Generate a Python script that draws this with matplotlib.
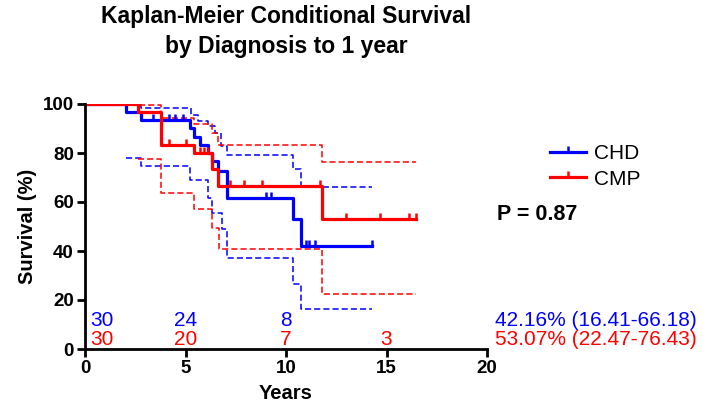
"""
Kaplan-Meier conditional survival by diagnosis (CHD vs CMP), to 1 year.
Recreated from a Prism-style figure; values read off the picture.
"""

import matplotlib
matplotlib.use("Agg")
import matplotlib.pyplot as plt
from matplotlib.lines import Line2D

plt.rcParams["font.family"] = ["Liberation Sans", "DejaVu Sans"]

# ---------------------------------------------------------------------------
# Data (years, survival %)
# ---------------------------------------------------------------------------
chd_t = [0, 2.05, 2.8, 5.2, 5.4, 5.7, 6.1, 6.3, 6.6, 7.05, 10.35, 10.75]
chd_s = [100, 96.67, 93.33, 90.0, 86.67, 83.33, 80.0, 76.67, 72.7, 61.7, 52.9, 42.16]
chd_end = 14.3
chd_cens_t = [1.2, 3.4, 4.2, 4.5, 4.9, 9.0, 9.25, 11.0, 11.15, 11.45, 14.3]

chd_hi_t = [0, 2.05, 2.8, 5.25, 5.6, 6.1, 6.45, 6.75, 7.05, 10.35, 10.75]
chd_hi_s = [100, 99.5, 98.2, 95.5, 93.0, 91.0, 88.0, 83.0, 79.2, 73.4, 66.18]
chd_lo_t = [2.05, 2.8, 5.2, 6.1, 6.3, 6.8, 7.05, 10.35, 10.75]
chd_lo_s = [78.0, 74.7, 68.8, 61.7, 55.5, 48.8, 37.1, 26.7, 16.41]

cmp_t = [0, 2.65, 3.8, 5.4, 6.3, 6.6, 11.8]
cmp_s = [100, 96.67, 83.33, 80.0, 73.6, 66.7, 53.07]
cmp_end = 16.45
cmp_cens_t = [1.4, 2.3, 4.2, 5.0, 5.7, 5.9, 6.1, 7.2, 7.9, 8.8, 11.7,
              13.0, 14.7, 16.1, 16.45]

cmp_hi_t = [0, 2.65, 3.8, 5.4, 6.3, 6.6, 11.8]
cmp_hi_s = [100, 99.5, 94.3, 91.8, 88.0, 83.1, 76.43]
cmp_lo_t = [2.65, 3.8, 5.4, 6.3, 6.65, 11.8]
cmp_lo_s = [77.5, 63.6, 57.1, 49.4, 41.0, 22.47]

# numbers at risk
risk_t = [0, 5, 10, 15]
chd_risk = ["30", "24", "8", ""]
cmp_risk = ["30", "20", "7", "3"]

chd_summary = "42.16% (16.41-66.18)"
cmp_summary = "53.07% (22.47-76.43)"
p_text = "P = 0.87"

BLUE = "#0000ff"
RED = "#ff0000"
TICK_UP = [(0, 0), (0, 1)]  # censor mark pointing up


def step_xy(t, s, end):
    return list(t) + [end], list(s) + [s[-1]]


def value_at(t, s, x):
    v = s[0]
    for ti, si in zip(t, s):
        if ti <= x:
            v = si
    return v


# ---------------------------------------------------------------------------
# Plot
# ---------------------------------------------------------------------------
fig = plt.figure(figsize=(7.09, 4.04), dpi=100)
ax = fig.add_axes([85 / 709, 1 - 349 / 404, (487 - 85) / 709, (349 - 104) / 404])

for t, s, end, col in [(chd_hi_t, chd_hi_s, chd_end, BLUE), (chd_lo_t, chd_lo_s, chd_end, BLUE),
                       (cmp_hi_t, cmp_hi_s, cmp_end, RED), (cmp_lo_t, cmp_lo_s, cmp_end, RED)]:
    x, y = step_xy(t, s, end)
    ax.step(x, y, where="post", color=col, lw=1.1, ls=(0, (4, 2)))

for t, s, end, cens, col in [(chd_t, chd_s, chd_end, chd_cens_t, BLUE),
                             (cmp_t, cmp_s, cmp_end, cmp_cens_t, RED)]:
    x, y = step_xy(t, s, end)
    ax.step(x, y, where="post", color=col, lw=2.3)
    cy = [value_at(t, s, c) for c in cens]
    ax.plot(cens, cy, ls="none", marker=TICK_UP, ms=9, mew=1.8, color=col)

ax.set_xlim(0, 20)
ax.set_ylim(0, 100)
ax.set_xticks([0, 5, 10, 15, 20])
ax.set_yticks([0, 20, 40, 60, 80, 100])
for sp in ["top", "right"]:
    ax.spines[sp].set_visible(False)
for sp in ["left", "bottom"]:
    ax.spines[sp].set_linewidth(2)
ax.tick_params(direction="out", length=6, width=2, labelsize=13.5, pad=2)
for lab in ax.get_xticklabels() + ax.get_yticklabels():
    lab.set_fontweight("bold")
ax.set_xlabel("Years", fontsize=14.5, fontweight="bold", labelpad=5)
ax.set_ylabel("Survival (%)", fontsize=14.5, fontweight="bold", labelpad=4)

# numbers at risk
for xt, a, b in zip(risk_t, chd_risk, cmp_risk):
    xx = 0.85 if xt == 0 else xt
    ax.text(xx, 11.5, a, color=BLUE, fontsize=15, ha="center", va="center")
    ax.text(xx, 3.8, b, color=RED, fontsize=15, ha="center", va="center")

ax.text(20.4, 11.5, chd_summary, color=BLUE, fontsize=15, ha="left", va="center", clip_on=False)
ax.text(20.4, 3.8, cmp_summary, color=RED, fontsize=15, ha="left", va="center", clip_on=False)
ax.text(20.5, 55, p_text, fontsize=15.5, fontweight="bold", ha="left", va="center", clip_on=False)

handles = [Line2D([], [], color=BLUE, lw=2.3, marker=TICK_UP, ms=9, mew=1.8),
           Line2D([], [], color=RED, lw=2.3, marker=TICK_UP, ms=9, mew=1.8)]
ax.legend(handles, ["CHD", "CMP"], loc="center left", bbox_to_anchor=(1.157, 0.745),
          frameon=False, fontsize=15, handlelength=1.7, handletextpad=0.4, numpoints=1,
          labelspacing=0.3, borderpad=0, borderaxespad=0)

fig.text(286 / 709, 1 - 16 / 404, "Kaplan-Meier Conditional Survival", ha="center", va="center",
         fontsize=16.5, fontweight="bold")
fig.text(286 / 709, 1 - 47 / 404, "by Diagnosis to 1 year", ha="center", va="center",
         fontsize=16.5, fontweight="bold")

fig.savefig("out.png", dpi=100)
